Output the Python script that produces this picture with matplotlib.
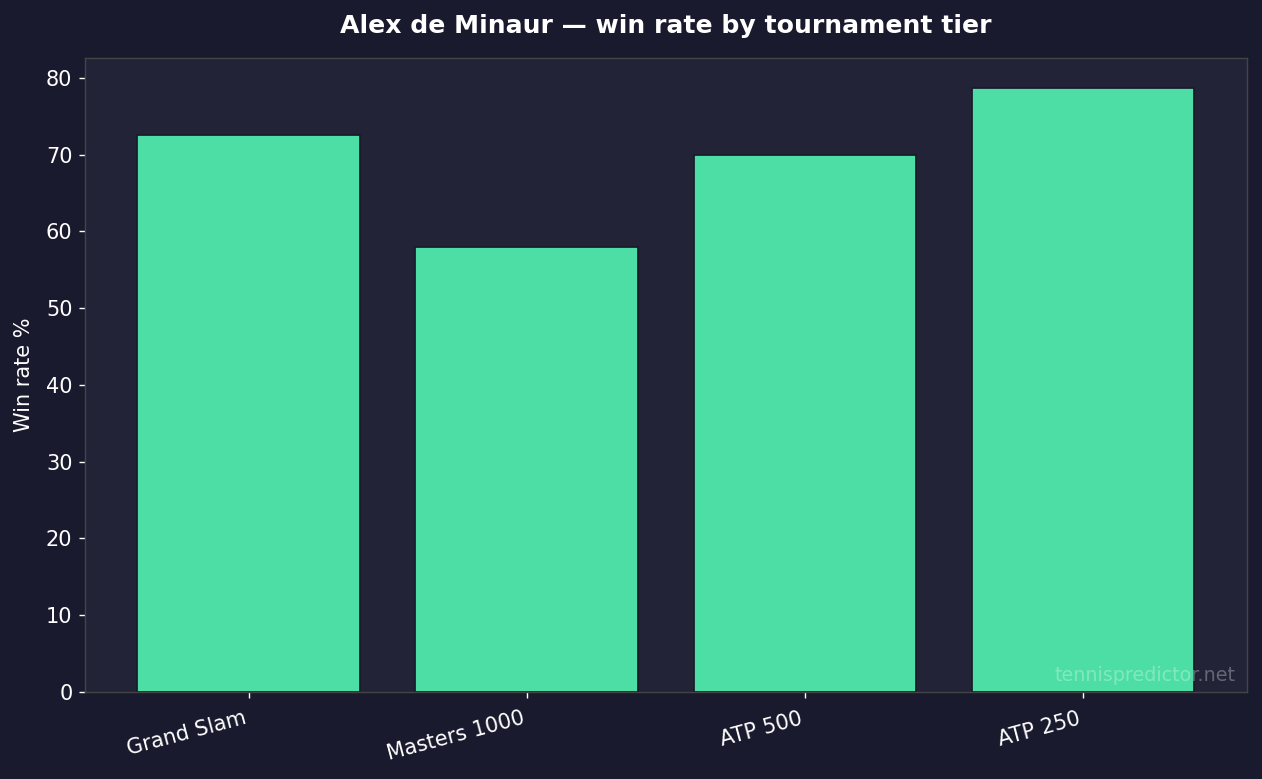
import numpy as np
import matplotlib.pyplot as plt

tiers = ["Grand Slam", "Masters 1000", "ATP 500", "ATP 250"]
win_rate = [72.6, 57.9, 70.0, 78.7]

BG = "#1a1a2e"
AX_BG = "#232338"
BAR = "#4ddea5"

DPI = 125
fig, ax = plt.subplots(figsize=(1262 / DPI, 779 / DPI), dpi=DPI)
fig.patch.set_facecolor(BG)
ax.set_facecolor(AX_BG)

x = np.arange(len(tiers))
ax.bar(x, win_rate, width=0.8, color=BAR, edgecolor=BG, linewidth=1)

ax.set_xticks(x)
ax.set_xticklabels(tiers, rotation=15, ha="right", fontsize=12, color="white")
ax.tick_params(axis="y", colors="white", labelsize=12)
ax.tick_params(axis="x", colors="white", pad=6)
ax.set_ylabel("Win rate %", color="white", fontsize=12, labelpad=7)
ax.set_title("Alex de Minaur — win rate by tournament tier", color="white",
             fontsize=14.5, fontweight="bold", pad=14)
for s in ax.spines.values():
    s.set_color("#444444")

ax.text(0.99, 0.01, "tennispredictor.net", transform=ax.transAxes,
        ha="right", va="bottom", color="white", alpha=0.3, fontsize=11)

plt.subplots_adjust(left=0.067, right=0.988, top=0.926, bottom=0.112)
fig.savefig("out.png", dpi=DPI, facecolor=BG)
